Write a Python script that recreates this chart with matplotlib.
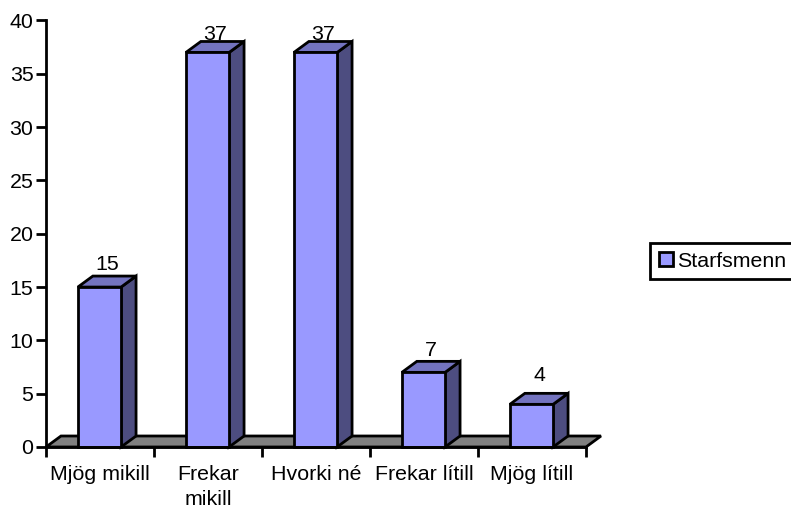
import matplotlib
matplotlib.use("Agg")
import matplotlib.pyplot as plt
from matplotlib.patches import Polygon, Patch

plt.rcParams['font.family'] = ['Liberation Sans', 'DejaVu Sans']

categories = ["Mjög mikill", "Frekar\nmikill", "Hvorki né", "Frekar lítill", "Mjög lítill"]
values = [15, 37, 37, 7, 4]
series_name = "Starfsmenn"
label_lift = [1.2, 0.75, 0.75, 1.2, 1.85]   # label clearance above the bar, in value units

W, H = 791, 508
FS = 15.4
fig = plt.figure(figsize=(W / 100, H / 100), dpi=100)
ax = fig.add_axes([46 / W, 1 - 447 / H, 540 / W, 426.5 / H])
ax.set_xlim(0, 5)
ax.set_ylim(0, 40)
ax.patch.set_alpha(0)

dx = 15 / 108
dy = 11 / (426.5 / 40)
bw = 0.40
edge = dict(edgecolor='black', linewidth=2, joinstyle='miter', clip_on=False)

# floor
ax.add_patch(Polygon([(0, 0), (dx, dy), (5 + dx, dy), (5, 0)], facecolor='#808080', zorder=1, **edge))

for i, (v, lift) in enumerate(zip(values, label_lift)):
    c = i + 0.495
    l, r = c - bw / 2, c + bw / 2
    ax.add_patch(Polygon([(r, 0), (r + dx, dy), (r + dx, v + dy), (r, v)],
                         facecolor='#4D4D80', zorder=2, **edge))
    ax.add_patch(Polygon([(l, v), (l + dx, v + dy), (r + dx, v + dy), (r, v)],
                         facecolor='#7373BF', zorder=2, **edge))
    ax.add_patch(Polygon([(l, 0), (r, 0), (r, v), (l, v)],
                         facecolor='#9999FF', zorder=3, **edge))
    ax.text(c + dx / 2, v + lift, str(v), ha='center', va='bottom', fontsize=FS,
            color='black', zorder=1.5, clip_on=False)

for s in ('top', 'right'):
    ax.spines[s].set_visible(False)
for s in ('left', 'bottom'):
    ax.spines[s].set_linewidth(2)
    ax.spines[s].set_zorder(4)

ax.set_yticks(range(0, 41, 5))
ax.tick_params(axis='y', length=7, width=2, labelsize=FS, pad=2)
ax.set_xticks(range(6))
ax.set_xticklabels([])
ax.tick_params(axis='x', length=7, width=2)
ax.set_xticks([i + 0.5 for i in range(5)], minor=True)
ax.set_xticklabels(categories, minor=True, fontsize=FS, linespacing=1.42)
ax.tick_params(axis='x', which='minor', length=0, pad=13)

handle = Patch(facecolor='#9999FF', edgecolor='black', linewidth=2)
fig.legend([handle], [series_name], loc='upper left',
           bbox_to_anchor=(650 / W, 1 - 243 / H), bbox_transform=fig.transFigure,
           fontsize=FS, frameon=True, fancybox=False, edgecolor='black', framealpha=1,
           borderpad=0.40, borderaxespad=0, handlelength=0.66, handleheight=0.66,
           handletextpad=0.2).get_frame().set_linewidth(2)

fig.savefig('out.png', dpi=100)
